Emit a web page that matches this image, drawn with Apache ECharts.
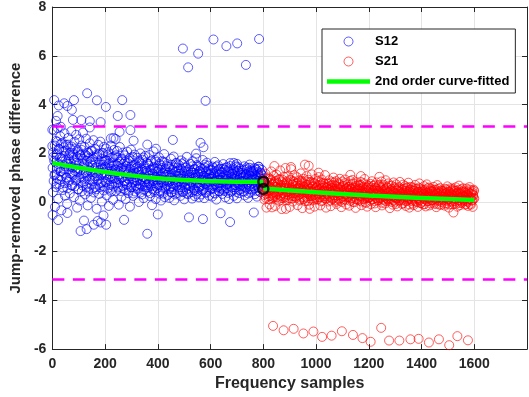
<!DOCTYPE html>
<html>
<head>
<meta charset="utf-8">
<title>Jump-removed phase difference</title>
<script src="https://cdn.jsdelivr.net/npm/echarts@6/dist/echarts.min.js"></script>
<style>
  html, body { margin: 0; padding: 0; background: #fff; }
  #chart { width: 529px; height: 397px; }
</style>
</head>
<body>
<div id="chart"></div>
<script>
// S12 phase difference, even frequency samples 0..798
const s12Even = [
  2.31, 0.42, 1.87, 2.95, 1.12, -0.18, 1.64, 2.52, 0.77, 1.98, 3.05, 0.15, 1.41, 2.18, 0.93, 2.71, 1.26, -0.32, 1.79, 2.44,
  0.61, 2.09, 1.35, 2.83, 0.28, 1.72, 2.36, 1.01, -0.05, 1.58, 2.64, 0.84, 1.93, 0.37, 2.21, 1.47, 2.92, 0.69, 1.16, 2.03,
  1.83, 0.22, 2.48, 1.29, 0.91, 2.77, 1.62, -0.21, 2.14, 0.55, 1.38, 2.59, 0.08, 1.95, 1.07, 2.33, 0.46, 1.71, 2.86, 0.98,
  1.52, 2.27, 0.33, 1.18, 2.61, 0.74, 1.89, -0.12, 2.05, 1.33, 0.57, 2.42, 1.66, 0.19, 1.24, 2.13, 0.88, 1.77, 2.55, 0.41,
  1.09, 2.18, 0.63, 1.45, -0.26, 1.97, 0.92, 2.36, 1.21, 0.35, 1.68, 2.49, 0.79, 1.36, 0.04, 2.02, 1.55, 0.67, 2.28, 1.13,
  0.86, 1.74, 2.21, 0.29, 1.42, 0.95, 2.06, -0.14, 1.61, 1.17, 0.52, 2.33, 1.28, 0.73, 1.85, 0.11, 1.49, 2.15, 0.98, 1.36,
  1.93, 0.47, 1.24, 2.11, 0.81, 1.58, -0.09, 1.07, 2.27, 0.64, 1.39, 0.23, 1.79, 1.02, 2.04, 0.56, 1.31, 0.87, 1.66, 0.14,
  1.48, 0.76, 2.08, 1.19, 0.38, 1.71, 0.94, -0.17, 1.35, 2.16, 0.62, 1.08, 1.87, 0.27, 1.53, 0.85, 1.96, 0.45, 1.22, 0.69,
  1.15, 1.83, 0.53, 1.37, 0.02, 1.64, 0.91, 2.01, 0.72, 1.26, 0.33, 1.75, 1.04, 0.18, 1.47, 0.83, 1.91, 0.61, 1.29, 0.96,
  0.44, 1.58, 1.11, 0.79, 1.94, 0.26, 1.33, 0.67, 1.72, -0.11, 1.19, 0.88, 2.09, 0.51, 1.41, 0.95, 0.14, 1.66, 1.03, 0.59,
  1.27, 0.71, 1.85, 0.36, 1.06, 1.52, 0.08, 0.93, 1.69, 0.48, 1.21, 0.77, 1.98, 0.22, 1.38, 0.64, 1.13, 0.89, 1.57, 0.31,
  0.84, 1.46, 0.19, 1.12, 0.67, 1.79, 0.42, 1.01, 1.34, 0.55, 1.88, 0.09, 1.24, 0.73, 1.61, 0.96, 0.38, 1.43, 0.81, 1.17,
  1.53, 0.62, 1.09, 0.27, 1.72, 0.86, 1.31, 0.45, 0.98, 1.64, 0.13, 1.18, 0.74, 1.42, 0.53, 1.87, 0.91, 0.34, 1.26, 0.69,
  1.05, 0.41, 1.58, 0.83, 1.22, 0.16, 1.69, 0.97, 0.58, 1.37, 0.26, 1.13, 0.79, 1.81, 0.47, 1.02, 1.48, 0.64, 0.21, 1.29,
  0.76, 1.41, 0.33, 1.16, 0.92, 1.74, 0.51, 1.07, 0.18, 1.55, 0.87, 1.25, 0.43, 1.63, 0.71, 0.99, 1.36, 0.28, 1.11, 0.82,
  1.32, 0.57, 1.04, 0.24, 1.47, 0.86, 1.19, 0.39, 1.66, 0.73, 0.95, 0.12, 1.28, 0.64, 1.52, 0.91, 0.47, 1.14, 0.79, 1.38,
  0.68, 1.23, 0.35, 1.01, 1.57, 0.52, 0.89, 1.34, 0.21, 1.12, 0.76, 1.45, 0.58, 0.97, 1.26, 0.14, 0.84, 1.61, 0.44, 1.07,
  1.18, 0.49, 0.93, 1.39, 0.27, 1.08, 0.71, 1.52, 0.62, 0.98, 0.17, 1.29, 0.82, 1.44, 0.38, 1.03, 0.66, 1.21, 0.55, 0.88,
  0.74, 1.31, 0.46, 1.06, 1.48, 0.29, 0.91, 1.17, 0.58, 1.36, 0.81, 0.19, 1.12, 0.67, 1.42, 0.95, 0.41, 1.24, 0.77, 1.02,
  1.27, 0.53, 0.96, 1.41, 0.34, 1.09, 0.72, 1.33, 0.24, 0.87, 1.15, 0.61, 1.38, 0.45, 0.99, 1.22, 0.68, 0.83, 1.11, 0.57
];

// S12 phase difference, odd frequency samples 1..799
const s12Odd = [
  1.42, 2.05, 0.88, 1.71, 2.33, 1.15, 0.63, 1.94, 1.37, 2.48, 0.97, 1.56, 2.19, 0.74, 1.83, 1.28, 2.41, 1.06, 1.67, 0.51,
  1.89, 1.21, 2.26, 0.79, 1.48, 2.12, 1.03, 1.65, 0.58, 2.37, 1.34, 1.77, 0.92, 2.02, 1.18, 1.59, 2.29, 0.71, 1.43, 1.96,
  1.11, 1.73, 0.66, 2.21, 1.39, 0.94, 1.86, 1.25, 2.08, 0.53, 1.61, 1.02, 1.92, 1.33, 0.81, 2.15, 1.47, 0.69, 1.78, 1.19,
  1.58, 0.87, 1.96, 1.24, 0.62, 1.71, 1.09, 2.03, 0.45, 1.43, 1.81, 0.96, 1.29, 2.11, 0.73, 1.52, 1.14, 1.87, 0.59, 1.36,
  0.98, 1.65, 1.21, 0.54, 1.89, 1.07, 1.42, 0.76, 1.97, 1.31, 0.62, 1.55, 1.13, 1.78, 0.85, 1.38, 2.02, 0.49, 1.24, 1.69,
  1.46, 0.83, 1.71, 1.12, 0.57, 1.94, 1.28, 0.71, 1.53, 1.04, 1.82, 0.44, 1.37, 0.96, 1.64, 1.19, 0.65, 1.88, 1.01, 1.33,
  0.78, 1.52, 1.06, 1.84, 0.61, 1.29, 0.93, 1.67, 1.14, 0.47, 1.76, 1.02, 1.41, 0.69, 1.58, 1.23, 0.86, 1.93, 0.52, 1.31,
  1.38, 0.72, 1.63, 0.98, 1.24, 0.49, 1.81, 1.07, 0.63, 1.47, 1.16, 0.84, 1.72, 0.37, 1.29, 0.91, 1.55, 1.03, 0.66, 1.42,
  0.89, 1.46, 0.58, 1.27, 1.71, 0.74, 1.12, 0.41, 1.59, 0.96, 1.33, 0.67, 1.84, 1.01, 0.52, 1.38, 0.83, 1.21, 1.64, 0.71,
  1.24, 0.63, 1.51, 0.86, 1.09, 0.38, 1.68, 0.97, 1.32, 0.55, 1.17, 0.79, 1.46, 0.43, 1.04, 1.73, 0.68, 1.26, 0.91, 1.39,
  0.74, 1.33, 0.95, 1.58, 0.47, 1.12, 0.82, 1.41, 0.61, 1.19, 0.36, 1.67, 0.88, 1.27, 0.56, 1.05, 1.49, 0.72, 1.14, 0.93,
  1.22, 0.58, 1.37, 0.86, 1.03, 0.41, 1.54, 0.77, 1.16, 0.64, 1.43, 0.92, 0.33, 1.28, 0.81, 1.62, 0.69, 1.07, 0.49, 1.31,
  0.87, 1.18, 0.53, 1.39, 0.96, 0.71, 1.57, 0.42, 1.08, 0.83, 1.26, 0.62, 1.45, 0.94, 0.37, 1.13, 0.78, 1.34, 0.57, 1.01,
  1.14, 0.66, 1.29, 0.84, 0.43, 1.48, 0.97, 0.72, 1.21, 0.51, 1.36, 0.89, 1.06, 0.35, 1.53, 0.79, 1.17, 0.61, 0.98, 1.27,
  0.69, 1.23, 0.91, 0.48, 1.37, 0.82, 1.09, 0.57, 1.44, 0.76, 1.02, 0.39, 1.28, 0.94, 0.63, 1.51, 0.85, 1.15, 0.52, 0.97,
  1.19, 0.74, 1.32, 0.55, 0.99, 1.41, 0.67, 1.08, 0.36, 1.24, 0.88, 1.47, 0.61, 1.03, 0.79, 1.35, 0.46, 1.12, 0.93, 0.58,
  0.92, 1.26, 0.63, 1.38, 0.81, 0.47, 1.15, 0.97, 1.42, 0.58, 1.06, 0.74, 1.31, 0.39, 0.89, 1.21, 0.67, 1.49, 0.83, 1.02,
  0.62, 1.17, 0.86, 1.33, 0.54, 0.98, 1.24, 0.71, 1.46, 0.43, 1.09, 0.79, 1.28, 0.92, 0.51, 1.37, 0.68, 1.13, 0.84, 1.01,
  1.22, 0.69, 1.05, 0.44, 1.35, 0.87, 1.14, 0.62, 1.43, 0.76, 0.97, 0.37, 1.27, 0.83, 1.09, 0.56, 1.31, 0.91, 0.66, 1.18,
  0.81, 1.29, 0.59, 1.12, 0.94, 1.38, 0.48, 1.03, 0.77, 1.24, 0.63, 1.46, 0.89, 1.07, 0.42, 1.19, 0.73, 1.33, 0.96, 0.86
];

// S12 samples away from the main cloud [sample, value]
const s12Outliers = [
  [495, 6.3], [515, 5.53], [553, 6.09], [611, 6.67], [660, 6.4], [701, 6.51], [734, 5.63], [784, 6.69], [581, 4.16], [457, 2.56],
  [7, 4.19], [24, 3.97], [45, 4.06], [57, 3.95], [74, 3.79], [82, 4.19], [132, 4.47], [169, 4.18], [203, 3.91], [265, 4.19],
  [248, 3.54], [296, 3.58], [142, 3.33], [183, 3.29], [110, 3.37], [78, 3.38], [14, 3.34], [0, 2.98], [20, 3.54], [32, 3.1],
  [142, 3.07], [255, 2.89], [296, 2.96], [308, 2.53], [222, 2.62], [232, 2.64], [240, 2.6], [360, 2.37], [393, 2.2], [562, 2.44],
  [573, 2.26], [545, 2.0], [688, 1.62], [700, 1.58], [748, 1.55], [782, 1.47],
  [1, -0.51], [22, -0.72], [57, -0.43], [107, -1.17], [130, -1.09], [120, -0.74], [157, -0.91], [172, -0.76], [184, -0.82], [194, -0.53],
  [204, -0.91], [272, -0.71], [360, -1.28], [400, -0.49], [518, -0.61], [571, -0.68], [638, -0.44], [674, -0.8], [764, -0.41]
];

// S21 phase difference, even frequency samples 802..1600
const s21Even = [
  0.91, 0.12, 0.68, 1.18, 0.35, -0.21, 0.83, 0.47, 1.02, 0.24, 0.61, -0.08, 0.97, 0.39, 1.27, 0.53, 0.16, 0.74, 0.29, 1.09,
  0.44, 0.86, -0.14, 0.63, 1.14, 0.21, 0.78, 0.36, 0.95, 0.07, 0.57, 1.31, 0.26, 0.71, -0.27, 0.49, 0.92, 0.18, 1.05, 0.62,
  0.33, 1.41, 0.58, 0.09, 0.81, 0.42, 1.07, 0.19, 0.66, -0.18, 0.94, 0.51, 1.36, 0.27, 0.73, 0.04, 0.88, 0.39, 1.12, 0.56,
  0.24, 0.77, 0.43, 1.03, -0.11, 0.59, 0.31, 0.91, 0.14, 0.68, 1.19, 0.37, 0.82, -0.23, 0.52, 0.97, 0.21, 0.64, 0.06, 0.86,
  0.48, 1.08, 0.17, 0.72, 0.34, 0.93, -0.09, 0.57, 0.26, 0.84, 0.41, 1.15, 0.11, 0.66, 0.29, 0.79, -0.17, 0.53, 0.96, 0.22,
  0.61, 0.13, 0.87, 0.36, 1.04, 0.21, 0.55, -0.12, 0.74, 0.32, 0.94, 0.08, 0.47, 0.81, 0.19, 0.63, 1.12, 0.27, -0.21, 0.58,
  0.35, 0.76, 0.04, 0.52, 0.91, 0.23, 0.67, -0.15, 0.44, 0.83, 0.16, 0.59, 1.02, 0.29, 0.71, 0.09, 0.48, 0.87, -0.06, 0.39,
  0.62, 0.18, 0.79, 0.31, 0.97, 0.07, 0.53, -0.19, 0.42, 0.86, 0.25, 0.68, 0.12, 0.49, 0.94, 0.33, -0.08, 0.57, 0.21, 0.74,
  0.27, 0.64, -0.13, 0.48, 0.88, 0.15, 0.56, 0.36, 0.92, 0.03, 0.43, 0.77, 0.22, 0.61, -0.22, 0.39, 0.83, 0.11, 0.52, 0.71,
  0.45, 0.08, 0.69, 0.26, 0.84, -0.11, 0.37, 0.58, 0.14, 0.79, 0.32, 0.96, 0.02, 0.51, 0.23, 0.73, -0.17, 0.41, 0.62, 0.18,
  0.54, 0.21, 0.76, -0.07, 0.39, 0.87, 0.13, 0.48, 0.29, 0.71, 0.05, 0.59, -0.19, 0.34, 0.82, 0.17, 0.47, 0.66, 0.09, 0.38,
  0.19, 0.63, 0.33, 0.86, -0.12, 0.44, 0.12, 0.72, 0.27, 0.53, -0.04, 0.91, 0.36, 0.16, 0.61, 0.24, 0.78, 0.07, 0.42, -0.23,
  0.51, 0.14, 0.69, 0.31, -0.09, 0.46, 0.82, 0.22, 0.58, 0.03, 0.37, 0.74, 0.18, -0.16, 0.49, 0.27, 0.63, 0.09, 0.84, 0.35,
  0.16, 0.56, -0.06, 0.38, 0.73, 0.11, 0.47, 0.24, 0.67, -0.14, 0.32, 0.59, 0.07, 0.42, 0.81, 0.19, -0.21, 0.53, 0.28, 0.64,
  0.34, 0.06, 0.61, 0.23, -0.11, 0.48, 0.15, 0.72, 0.29, 0.04, 0.55, 0.37, -0.18, 0.44, 0.12, 0.78, 0.26, 0.57, -0.03, 0.39,
  0.21, 0.52, -0.08, 0.36, 0.67, 0.13, 0.45, -0.16, 0.28, 0.74, 0.05, 0.41, 0.19, 0.61, -0.12, 0.33, 0.57, 0.09, 0.48, 0.25,
  0.43, 0.11, 0.64, -0.05, 0.31, 0.53, 0.17, -0.19, 0.38, 0.71, 0.08, 0.46, 0.22, -0.09, 0.59, 0.27, 0.02, 0.49, 0.14, 0.36,
  0.09, 0.47, 0.24, -0.13, 0.56, 0.18, 0.39, -0.04, 0.66, 0.12, 0.33, -0.21, 0.44, 0.21, 0.58, 0.06, 0.37, -0.08, 0.51, 0.27,
  0.31, -0.06, 0.48, 0.15, 0.62, 0.03, 0.36, -0.17, 0.42, 0.22, 0.69, 0.08, -0.11, 0.39, 0.19, 0.54, -0.02, 0.28, 0.46, 0.11,
  0.26, 0.44, -0.09, 0.18, 0.57, 0.05, 0.34, -0.14, 0.41, 0.12, 0.63, 0.21, -0.05, 0.37, 0.09, 0.49, -0.18, 0.29, 0.52, 0.16
];

// S21 phase difference, odd frequency samples 801..1599
const s21Odd = [
  0.62, 0.31, 0.84, 0.47, 0.19, 0.73, 0.55, 0.96, 0.38, 0.67, 0.14, 0.81, 0.49, 0.27, 0.91, 0.58, 0.36, 0.77, 0.22, 0.64,
  0.41, 0.79, 0.26, 0.63, 0.88, 0.34, 0.57, 0.12, 0.72, 0.46, 0.93, 0.29, 0.66, 0.51, 0.18, 0.83, 0.39, 0.61, 0.24, 0.75,
  0.58, 0.21, 0.69, 0.43, 0.86, 0.32, 0.54, 0.11, 0.77, 0.47, 0.28, 0.91, 0.39, 0.62, 0.17, 0.73, 0.51, 0.84, 0.26, 0.45,
  0.37, 0.68, 0.19, 0.53, 0.81, 0.29, 0.61, 0.44, 0.08, 0.74, 0.35, 0.57, 0.89, 0.23, 0.49, 0.66, 0.14, 0.78, 0.41, 0.55,
  0.52, 0.24, 0.71, 0.38, 0.06, 0.62, 0.45, 0.83, 0.31, 0.57, 0.16, 0.74, 0.42, 0.27, 0.66, 0.49, 0.11, 0.79, 0.34, 0.58,
  0.29, 0.63, 0.47, 0.12, 0.71, 0.36, 0.54, 0.21, 0.82, 0.43, 0.05, 0.59, 0.33, 0.68, 0.25, 0.49, 0.76, 0.17, 0.41, 0.61,
  0.46, 0.19, 0.64, 0.33, 0.78, 0.27, 0.51, 0.08, 0.59, 0.39, 0.71, 0.14, 0.48, 0.31, 0.82, 0.22, 0.56, 0.43, 0.03, 0.67,
  0.28, 0.57, 0.13, 0.49, 0.74, 0.32, 0.61, 0.19, 0.42, 0.02, 0.66, 0.37, 0.53, 0.24, 0.79, 0.41, 0.11, 0.58, 0.34, 0.47,
  0.51, 0.22, 0.63, 0.39, 0.07, 0.56, 0.31, 0.74, 0.18, 0.44, 0.62, 0.26, 0.01, 0.53, 0.37, 0.69, 0.15, 0.48, 0.29, 0.58,
  0.36, 0.12, 0.57, 0.28, 0.71, 0.41, 0.04, 0.49, 0.23, 0.64, 0.33, 0.16, 0.55, 0.39, -0.02, 0.61, 0.27, 0.46, 0.19, 0.68,
  0.22, 0.51, 0.35, 0.07, 0.62, 0.31, 0.44, 0.14, 0.68, 0.26, 0.53, -0.04, 0.39, 0.19, 0.57, 0.33, 0.09, 0.48, 0.29, 0.72,
  0.43, 0.17, 0.58, 0.32, -0.01, 0.49, 0.24, 0.66, 0.11, 0.37, 0.54, 0.21, 0.05, 0.47, 0.29, 0.62, 0.14, 0.39, 0.69, 0.26,
  0.18, 0.46, 0.31, 0.02, 0.55, 0.27, 0.41, 0.09, 0.63, 0.22, 0.36, -0.06, 0.49, 0.15, 0.33, 0.58, 0.24, 0.07, 0.44, 0.29,
  0.34, 0.08, 0.51, 0.23, 0.42, -0.03, 0.29, 0.57, 0.16, 0.38, 0.05, 0.47, 0.21, 0.62, 0.12, 0.35, -0.08, 0.44, 0.26, 0.53,
  0.12, 0.41, 0.27, -0.05, 0.48, 0.19, 0.33, 0.07, 0.56, 0.24, 0.38, 0.01, 0.45, 0.16, 0.61, 0.29, 0.09, 0.36, -0.02, 0.43,
  0.28, 0.04, 0.46, 0.19, 0.35, -0.07, 0.52, 0.23, 0.11, 0.39, 0.27, 0.58, 0.06, 0.31, 0.17, 0.49, -0.04, 0.37, 0.21, 0.44,
  0.09, 0.36, 0.22, 0.51, 0.03, 0.29, 0.44, 0.13, -0.06, 0.38, 0.19, 0.55, 0.26, 0.07, 0.41, 0.16, 0.32, -0.09, 0.47, 0.21,
  0.33, 0.11, 0.42, 0.24, -0.04, 0.36, 0.18, 0.53, 0.07, 0.29, 0.45, 0.14, -0.08, 0.39, 0.22, 0.49, 0.02, 0.31, 0.16, 0.57,
  0.19, 0.41, 0.06, 0.33, 0.14, 0.48, -0.05, 0.27, 0.38, 0.09, 0.52, 0.21, -0.02, 0.35, 0.16, 0.44, 0.04, 0.29, 0.58, 0.12,
  0.24, 0.07, 0.39, 0.16, -0.06, 0.31, 0.11, 0.46, 0.02, 0.27, 0.53, 0.14, 0.36, -0.09, 0.21, 0.42, 0.08, 0.33, 0.18, 0.47
];

// S21 samples away from the main band [sample, value]
const s21Outliers = [
  [842, 1.49], [905, 1.45], [958, 1.55], [972, 1.5], [1010, 1.22], [1130, 1.13], [1170, 1.08], [1240, 1.05],
  [833, -0.2], [886, -0.26], [976, -0.26], [1521, -0.41],
  [837, -5.05], [877, -5.23], [915, -5.17], [952, -5.36], [990, -5.28], [1023, -5.5], [1059, -5.45], [1098, -5.27],
  [1140, -5.42], [1176, -5.55], [1207, -5.7], [1247, -5.13], [1277, -5.65], [1316, -5.65], [1358, -5.6], [1389, -5.58],
  [1428, -5.73], [1466, -5.6], [1505, -5.84], [1536, -5.47], [1576, -5.64]
];

// 2nd order fitted curves [sample, value]
const fitS12 = [[0, 1.62], [100, 1.42], [200, 1.25], [300, 1.11], [400, 0.99], [500, 0.92], [600, 0.87], [700, 0.85], [800, 0.85]];
const fitS21 = [[800, 0.57], [1000, 0.42], [1200, 0.29], [1400, 0.18], [1600, 0.1]];

// curve ends at the S12/S21 junction
const junctionPoints = [[800, 0.85], [800, 0.55]];

// +/- pi limits
const phaseLimits = [3.1416, -3.1416];

const font = "'Liberation Sans', Arial, sans-serif";
const axisColor = "#262626";
const gridColor = "#e4e4e4";

// sample index for each value: first sample + 2 * position
const toPoints = (values, first) => values.map((v, i) => [first + 2 * i, v]);

const s12Data = toPoints(s12Even, 0).concat(toPoints(s12Odd, 1), s12Outliers);
const s21Data = toPoints(s21Even, 802).concat(toPoints(s21Odd, 801), s21Outliers);

function ring(name, color, data, z) {
  return {
    name: name,
    type: "scatter",
    data: data,
    symbol: "circle",
    symbolSize: 9,
    itemStyle: { color: "rgba(0,0,0,0)", borderColor: color, borderWidth: 0.8 },
    emphasis: { disabled: true },
    z: z
  };
}

function fitLine(data) {
  return {
    name: "2nd order curve-fitted",
    type: "line",
    data: data,
    smooth: true,
    symbol: "none",
    lineStyle: { color: "#00ff00", width: 4.5 },
    itemStyle: { color: "#00ff00" },
    emphasis: { disabled: true },
    z: 5
  };
}

function axisStyle(position, showLabel) {
  return {
    position: position,
    axisLine: { show: true, onZero: false, lineStyle: { color: axisColor, width: 1 } },
    axisTick: { show: true, inside: true, length: 5, lineStyle: { color: axisColor } },
    axisLabel: { show: showLabel, fontFamily: font, fontWeight: "bold", fontSize: 14, color: axisColor },
    splitLine: { show: showLabel, lineStyle: { color: gridColor, width: 1 } }
  };
}

const chart = echarts.init(document.getElementById("chart"), null, { renderer: "canvas" });

const xBase = { type: "value", min: 0, max: 1800, interval: 200 };
const yBase = { type: "value", min: -6, max: 8, interval: 2 };

const xMain = Object.assign({}, xBase, axisStyle("bottom", true), {
  name: "Frequency samples",
  nameLocation: "middle",
  nameGap: 25,
  nameTextStyle: { fontFamily: font, fontWeight: "bold", fontSize: 16, color: axisColor }
});
xMain.axisLabel.margin = 8;
xMain.axisLabel.showMaxLabel = false;
xMain.axisLabel.formatter = v => String(v);

const yMain = Object.assign({}, yBase, axisStyle("left", true), {
  name: "Jump-removed phase difference",
  nameLocation: "middle",
  nameRotate: 90,
  nameGap: 27,
  nameTextStyle: { fontFamily: font, fontWeight: "bold", fontSize: 15, color: axisColor }
});
yMain.axisLabel.margin = 6;
yMain.axisLabel.formatter = v => String(v);

chart.setOption({
  animation: false,
  backgroundColor: "#fff",
  textStyle: { fontFamily: font },
  grid: { left: 48, right: 2, top: 5, bottom: 46, containLabel: false },
  legend: {
    data: [
      { name: "S12", icon: "circle", itemStyle: { color: "rgba(0,0,0,0)", borderColor: "#0000ff", borderWidth: 0.8 } },
      { name: "S21", icon: "circle", itemStyle: { color: "rgba(0,0,0,0)", borderColor: "#ff0000", borderWidth: 0.8 } },
      { name: "2nd order curve-fitted", icon: "path://M0,0L43,0L43,4.5L0,4.5Z", itemStyle: { color: "#00ff00", borderWidth: 0 } }
    ],
    orient: "vertical",
    left: 322,
    top: 29,
    padding: [6, 6, 5, 5],
    itemWidth: 43,
    itemHeight: 9,
    itemGap: 7,
    selectedMode: false,
    backgroundColor: "#fff",
    borderColor: axisColor,
    borderWidth: 1,
    borderRadius: 0,
    textStyle: { fontFamily: font, fontWeight: "bold", fontSize: 13, color: "#000", lineHeight: 9 }
  },
  xAxis: [xMain, Object.assign({}, xBase, axisStyle("top", false))],
  yAxis: [yMain, Object.assign({}, yBase, axisStyle("right", false))],
  series: [
    ring("S12", "#0000ff", s12Data, 2),
    ring("S21", "#ff0000", s21Data, 3),
    fitLine(fitS12),
    fitLine(fitS21),
    {
      name: "junction",
      type: "scatter",
      data: junctionPoints,
      symbol: "circle",
      symbolSize: 10,
      itemStyle: { color: "rgba(0,0,0,0)", borderColor: "#000", borderWidth: 2.5 },
      emphasis: { disabled: true },
      z: 6,
      markLine: {
        silent: true,
        symbol: "none",
        label: { show: false },
        lineStyle: { color: "#ff00ff", type: [12, 8.5], width: 2.5 },
        data: phaseLimits.map(v => ({ yAxis: v }))
      }
    }
  ]
});
</script>
</body>
</html>
